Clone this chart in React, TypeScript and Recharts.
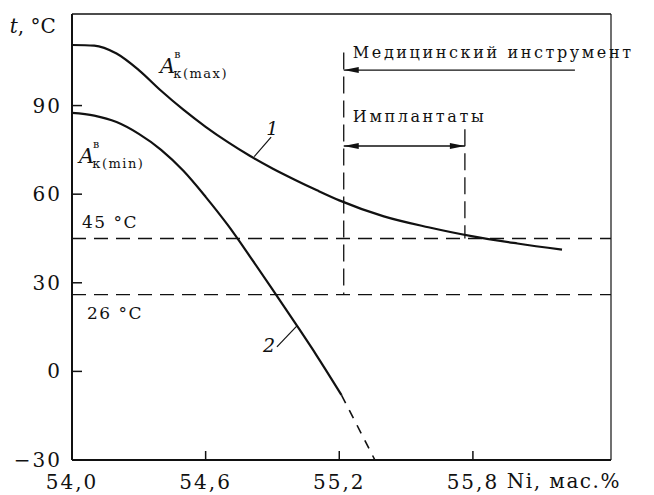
import React from 'react';
import { LineChart, Line, XAxis, YAxis, ReferenceLine, ReferenceDot } from 'recharts';

// curve 1, A_k(max)
const niMax = [54.0, 54.1, 54.2, 54.3, 54.4, 54.5, 54.6, 54.7, 54.8, 54.9, 55.0, 55.1, 55.2, 55.4, 55.6, 55.8, 56.0, 56.2];
const tMax = [110.5, 110.3, 107.6, 102.0, 95.0, 88.6, 82.8, 77.6, 72.9, 68.7, 64.9, 61.3, 57.9, 52.5, 48.8, 45.7, 43.3, 41.2];

// curve 2, A_k(min)
const niMin = [54.0, 54.1, 54.2, 54.3, 54.4, 54.5, 54.6, 54.7, 54.8, 54.9, 55.0, 55.1, 55.21];
const tMin = [87.5, 86.6, 84.4, 80.4, 75.0, 67.9, 59.1, 49.5, 38.8, 27.8, 16.6, 5.2, -8];

// extrapolated (dashed) tail of curve 2
const niTail = [55.21, 55.36];
const tTail = [-8, -30];

const xTicks = [54.0, 54.6, 55.2, 55.8];
const yTicks = [-30, 0, 30, 60, 90];
const xDomain = [54.0, 56.42];
const yDomain = [-30, 121];

const toRows = (xs: number[], ys: number[]) => xs.map((ni, i) => ({ ni, t: ys[i] }));
const maxData = toRows(niMax, tMax);
const minData = toRows(niMin, tMin);
const tailData = toRows(niTail, tTail);

const FONT = 'DejaVu Serif, Liberation Serif, serif';
const INK = '#111';

const XTick = (p: any) => {
  const { x, y, payload } = p;
  return (
    <g>
      <line x1={x} y1={y} x2={x} y2={y - 9} stroke={INK} strokeWidth={1.5} />
      <text x={x} y={y + 29} textAnchor="middle" fontFamily={FONT} fontSize={20} letterSpacing={2} fill={INK}>
        {payload.value.toFixed(1).replace('.', ',')}
      </text>
    </g>
  );
};

const YTick = (p: any) => {
  const { x, y, payload } = p;
  const v = payload.value;
  return (
    <g>
      <line x1={x} y1={y} x2={x + 10} y2={y} stroke={INK} strokeWidth={1.5} />
      <text x={x - 10} y={y + 7} textAnchor="end" fontFamily={FONT} fontSize={20} letterSpacing={2} fill={INK}>
        {v < 0 ? `\u2212${Math.abs(v)}` : String(v)}
      </text>
    </g>
  );
};

const arrow = (left: boolean, right: boolean) => (p: any) => {
  const xa = Math.min(p.x1, p.x2);
  const xb = Math.max(p.x1, p.x2);
  const y = p.y1;
  return (
    <g>
      <line x1={xa} y1={y} x2={xb} y2={y} stroke={INK} strokeWidth={1.4} />
      {left && <polygon points={`${xa},${y} ${xa + 15},${y - 3} ${xa + 15},${y + 3}`} fill={INK} />}
      {right && <polygon points={`${xb},${y} ${xb - 15},${y - 3} ${xb - 15},${y + 3}`} fill={INK} />}
    </g>
  );
};

const txt = (value: string, size = 16, spacing = 2) => (p: any) => (
  <text x={p.cx} y={p.cy} fontFamily={FONT} fontSize={size} letterSpacing={spacing} fill={INK}>
    {value}
  </text>
);

const aLabel = (sub: string) => (p: any) => (
  <text x={p.cx} y={p.cy} fontFamily={FONT} fill={INK}>
    <tspan fontSize={21} fontStyle="italic">A</tspan>
    <tspan fontSize={11} dy={-15} dx={-1}>в</tspan>
    <tspan fontSize={13} dy={20} dx={-7} letterSpacing={1.5}>{sub}</tspan>
  </text>
);

const axisTitleT = (p: any) => (
  <text x={p.cx} y={p.cy} fontFamily={FONT} fontSize={20} fill={INK}>
    <tspan fontStyle="italic">t</tspan>
    <tspan>, °C</tspan>
  </text>
);

const dashed = { stroke: INK, strokeWidth: 1.3 };

export default function App() {
  return (
    <div style={{ position: 'absolute', left: 0, top: 0, width: 654, height: 495, background: '#fff' }}>
      <LineChart width={654} height={495} margin={{ top: 14, right: 43, left: 0, bottom: 0 }}>
        <XAxis
          dataKey="ni"
          type="number"
          domain={xDomain}
          ticks={xTicks}
          allowDataOverflow
          height={35}
          tickSize={0}
          tickMargin={0}
          tick={<XTick />}
          axisLine={{ stroke: INK, strokeWidth: 2 }}
          tickLine={false}
        />
        <YAxis
          type="number"
          domain={yDomain}
          ticks={yTicks}
          allowDataOverflow
          width={72}
          tickSize={0}
          tickMargin={0}
          tick={<YTick />}
          axisLine={{ stroke: INK, strokeWidth: 2 }}
          tickLine={false}
        />

        {/* frame */}
        <ReferenceLine y={121} stroke={INK} strokeWidth={1.5} />
        <ReferenceLine x={56.42} stroke={INK} strokeWidth={1.2} />

        {/* temperature levels */}
        <ReferenceLine y={45} {...dashed} strokeDasharray="14 8" />
        <ReferenceLine y={26} {...dashed} strokeDasharray="14 8" />

        {/* ranges */}
        <ReferenceLine segment={[{ x: 55.22, y: 108 }, { x: 55.22, y: 26 }]} {...dashed} strokeDasharray="17 7" />
        <ReferenceLine segment={[{ x: 55.764, y: 82 }, { x: 55.764, y: 45 }]} {...dashed} strokeDasharray="17 7" />
        <ReferenceLine segment={[{ x: 55.22, y: 102 }, { x: 56.258, y: 102 }]} shape={arrow(true, false)} />
        <ReferenceLine segment={[{ x: 55.22, y: 76.3 }, { x: 55.764, y: 76.3 }]} shape={arrow(true, true)} />

        {/* leaders for curve numbers */}
        <ReferenceLine segment={[{ x: 54.818, y: 72.7 }, { x: 54.894, y: 79.3 }]} stroke={INK} strokeWidth={1.2} />
        <ReferenceLine segment={[{ x: 55.01, y: 15.4 }, { x: 54.92, y: 8.3 }]} stroke={INK} strokeWidth={1.2} />

        <Line data={maxData} dataKey="t" type="monotone" stroke={INK} strokeWidth={2.2} dot={false} isAnimationActive={false} />
        <Line data={minData} dataKey="t" type="monotone" stroke={INK} strokeWidth={2.2} dot={false} isAnimationActive={false} />
        <Line data={tailData} dataKey="t" type="linear" stroke={INK} strokeWidth={1.6} strokeDasharray="9 8" dot={false} isAnimationActive={false} />

        {/* annotations */}
        <ReferenceDot x={55.261} y={106.1} r={0} shape={txt('Медицинский инструмент', 16, 2.6)} />
        <ReferenceDot x={55.261} y={84.4} r={0} shape={txt('Имплантаты', 16, 2.6)} />
        <ReferenceDot x={54.045} y={48.5} r={0} shape={txt('45 °C', 17, 1.5)} />
        <ReferenceDot x={54.067} y={17.7} r={0} shape={txt('26 °C', 17, 1.5)} />
        <ReferenceDot x={54.395} y={101} r={0} shape={aLabel('к(max)')} />
        <ReferenceDot x={54.031} y={70.5} r={0} shape={aLabel('к(min)')} />
        <ReferenceDot x={54.872} y={80} r={0} shape={(p: any) => (
          <text x={p.cx} y={p.cy} fontFamily={FONT} fontSize={19} fontStyle="italic" fill={INK}>1</text>
        )} />
        <ReferenceDot x={54.857} y={6.6} r={0} shape={(p: any) => (
          <text x={p.cx} y={p.cy} fontFamily={FONT} fontSize={19} fontStyle="italic" fill={INK}>2</text>
        )} />
        <ReferenceDot x={53.72} y={114.5} r={0} ifOverflow="visible" shape={axisTitleT} />
        <ReferenceDot x={55.952} y={-39.5} r={0} ifOverflow="visible" shape={txt('Ni, мас.%', 20, 1.5)} />
      </LineChart>
    </div>
  );
}
